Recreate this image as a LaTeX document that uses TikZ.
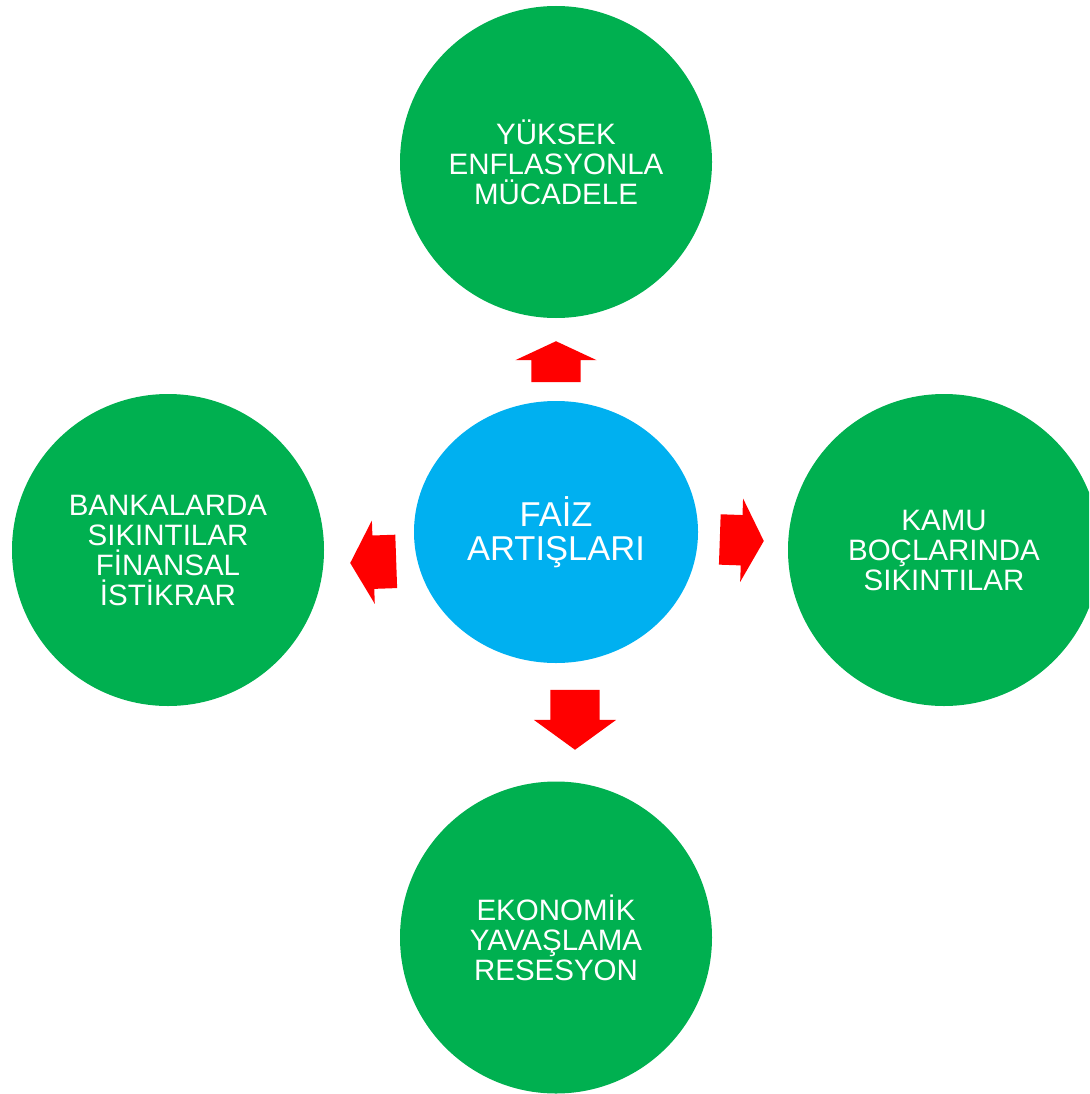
\documentclass[tikz,border=0pt]{standalone}
\usepackage{fontspec}
\setmainfont{Liberation Sans}
\usepackage{tikz}
\usetikzlibrary{shapes.geometric,shapes.arrows}

\definecolor{yesil}{HTML}{00B050}
\definecolor{mavi}{HTML}{00B0F0}
\definecolor{kirmizi}{HTML}{FF0000}

\begin{document}
\begin{tikzpicture}[x=1pt, y=-1pt]
\tikzstyle{sonuc}=[circle,fill=yesil,draw=none,text=white,minimum size=312pt,inner sep=0pt,align=center,font=\fontsize{29.5}{30}\selectfont]
\tikzstyle{neden}=[ellipse,fill=mavi,draw=none,text=white,minimum width=284pt,minimum height=262pt,inner sep=0pt,align=center,font=\fontsize{34.5}{34}\selectfont]
\tikzstyle{ok}=[single arrow,fill=kirmizi,draw=none,inner xsep=0pt,anchor=tip]
\clip (0,0) rectangle (1089,1094);
\node[neden]    (faiz)      at (556,532)    {FAİZ\\ARTIŞLARI};
\node[sonuc]    (enflasyon) at (556,162)    {YÜKSEK\\ENFLASYONLA\\MÜCADELE};
\node[sonuc]    (banka)     at (168,550)    {BANKALARDA\\SIKINTILAR\\FİNANSAL\\İSTİKRAR};
\node[sonuc]    (kamu)      at (944,550)    {KAMU\\BOÇLARINDA\\SIKINTILAR};
\node[sonuc]    (ekonomi)   at (556,937.5)  {EKONOMİK\\YAVAŞLAMA\\RESESYON};
% kirmizi oklar
\node[ok, rotate=90, minimum height=41pt, inner ysep=24.5pt, single arrow head extend=16pt, single arrow tip angle=130] (okust) at (556,341) {};
\node[ok, rotate=-90, minimum height=60pt, inner ysep=24.5pt, single arrow head extend=16.5pt, single arrow tip angle=108] (okalt) at (575,750) {};
\node[ok, rotate=182, minimum height=46pt, inner ysep=26.5pt, single arrow head extend=15pt, single arrow tip angle=122] (oksol) at (350,563) {};
\node[ok, rotate=-2, minimum height=44pt, inner ysep=25pt, single arrow head extend=16.5pt, single arrow tip angle=124] (oksag) at (764,541) {};
\end{tikzpicture}
\end{document}
